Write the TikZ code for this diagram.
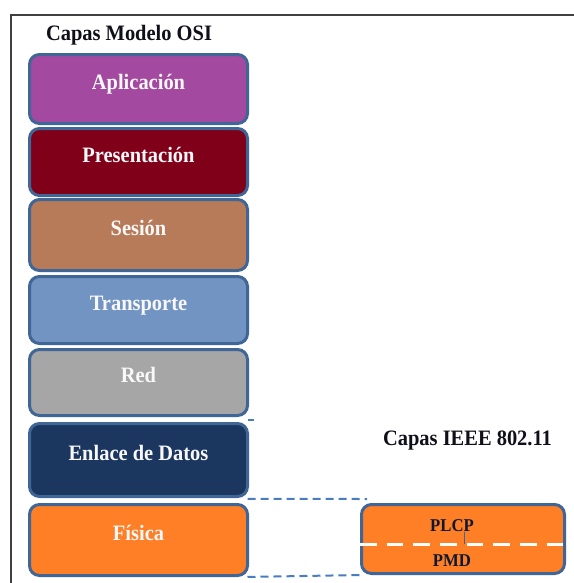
\documentclass[tikz,border=0pt]{standalone}
\usepackage{fontspec}
\setmainfont{Liberation Serif}[FakeStretch=0.93]

% layer fills
\definecolor{cApp}{HTML}{A34AA0}
\definecolor{cPres}{HTML}{80001A}
\definecolor{cSes}{HTML}{B77B59}
\definecolor{cTrans}{HTML}{7294C2}
\definecolor{cRed}{HTML}{A6A6A6}
\definecolor{cEnl}{HTML}{1B365F}
\definecolor{cFis}{HTML}{FF7F27}
% strokes and text
\definecolor{edgeblue}{HTML}{3F6696}
\definecolor{linkblue}{HTML}{4A7CC2}
\definecolor{framegray}{HTML}{404040}
\definecolor{titlecol}{HTML}{10101A}
\definecolor{labelwhite}{HTML}{F8F8F8}
\definecolor{darklabel}{HTML}{0F1830}

\begin{document}
\begin{tikzpicture}[x=0.75pt,y=-0.75pt,
  layer/.style={draw=edgeblue, line width=2.25pt, rounded corners=7.5pt,
    minimum width=163.5pt, inner sep=0pt, outer sep=0pt},
  lbl/.style={anchor=base, inner sep=0pt, text=labelwhite,
    font=\fontsize{16.5}{18}\selectfont\bfseries},
  heading/.style={anchor=base, inner sep=0pt, text=titlecol,
    font=\fontsize{16.5}{18}\selectfont\bfseries},
  sublbl/.style={anchor=base, inner sep=0pt, text=darklabel,
    font=\fontsize{13.5}{15}\selectfont\bfseries},
  link/.style={draw=linkblue, line width=1.5pt, dash pattern=on 6pt off 3.75pt},
  split/.style={draw=white, line width=2.25pt, dash pattern=on 12.5pt off 7.5pt}
]
\useasboundingbox (0,0) rectangle (574,583);
\fill[white] (0,0) rectangle (574,583);

% outer frame (top and left sides)
\draw[framegray, line width=1.5pt] (11,583) -- (11,15) -- (574,15);

% titles
\node[heading] (osititle) at (129,40) {Capas Modelo OSI};
\node[heading] (ieeetitle) at (467.5,445) {Capas IEEE 802.11};

% OSI stack
\node[layer, fill=cApp,   minimum height=51.75pt] (app)   at (138.5,89)    {};
\node[lbl] at (app.center) {Aplicación};
\node[layer, fill=cPres,  minimum height=50.25pt] (pres)  at (138.5,162)   {};
\node[lbl] at (pres.center) {Presentación};
\node[layer, fill=cSes,   minimum height=53.25pt] (ses)   at (138.5,235)   {};
\node[lbl] at (ses.center) {Sesión};
\node[layer, fill=cTrans, minimum height=50.25pt] (trans) at (138.5,310)   {};
\node[lbl] at (trans.center) {Transporte};
\node[layer, fill=cRed,   minimum height=49.5pt]  (red)   at (138.5,382.5) {};
\node[lbl] at (red.center) {Red};
\node[layer, fill=cEnl,   minimum height=54.75pt] (enl)   at (138.5,460)   {};
\node[lbl] at (enl.center) {Enlace de Datos};
\node[layer, fill=cFis,   minimum height=53.25pt] (fis)   at (138.5,540)   {};
\node[lbl] at (fis.center) {Física};

% IEEE 802.11 physical layer
\node[layer, fill=cFis, minimum width=152.25pt, minimum height=51.75pt] (ieee) at (463,539) {};
\draw[split] ([xshift=-1.2pt,yshift=-3.75pt]ieee.west) -- ([xshift=1.2pt,yshift=-3.75pt]ieee.east);
\coordinate (tickTop) at (464,532);
\coordinate (tickBot) at (464,544);
\draw[edgeblue, line width=0.6pt] (tickTop) -- (tickBot);
\node[sublbl] (plcp) at (452,531) {PLCP};
\node[sublbl] (pmd)  at (452,566) {PMD};

% projection of the physical layer
\coordinate (upEnd) at (367,499);
\draw[link] ([yshift=-1.8pt]enl.south east) -- (upEnd);
\draw[link] ([yshift=-1.1pt]fis.south east) -- ([yshift=-1.1pt]ieee.south west);
\draw[link] ([xshift=0.5pt,yshift=2.4pt]enl.north east) -- ++(6,0);
\end{tikzpicture}
\end{document}
